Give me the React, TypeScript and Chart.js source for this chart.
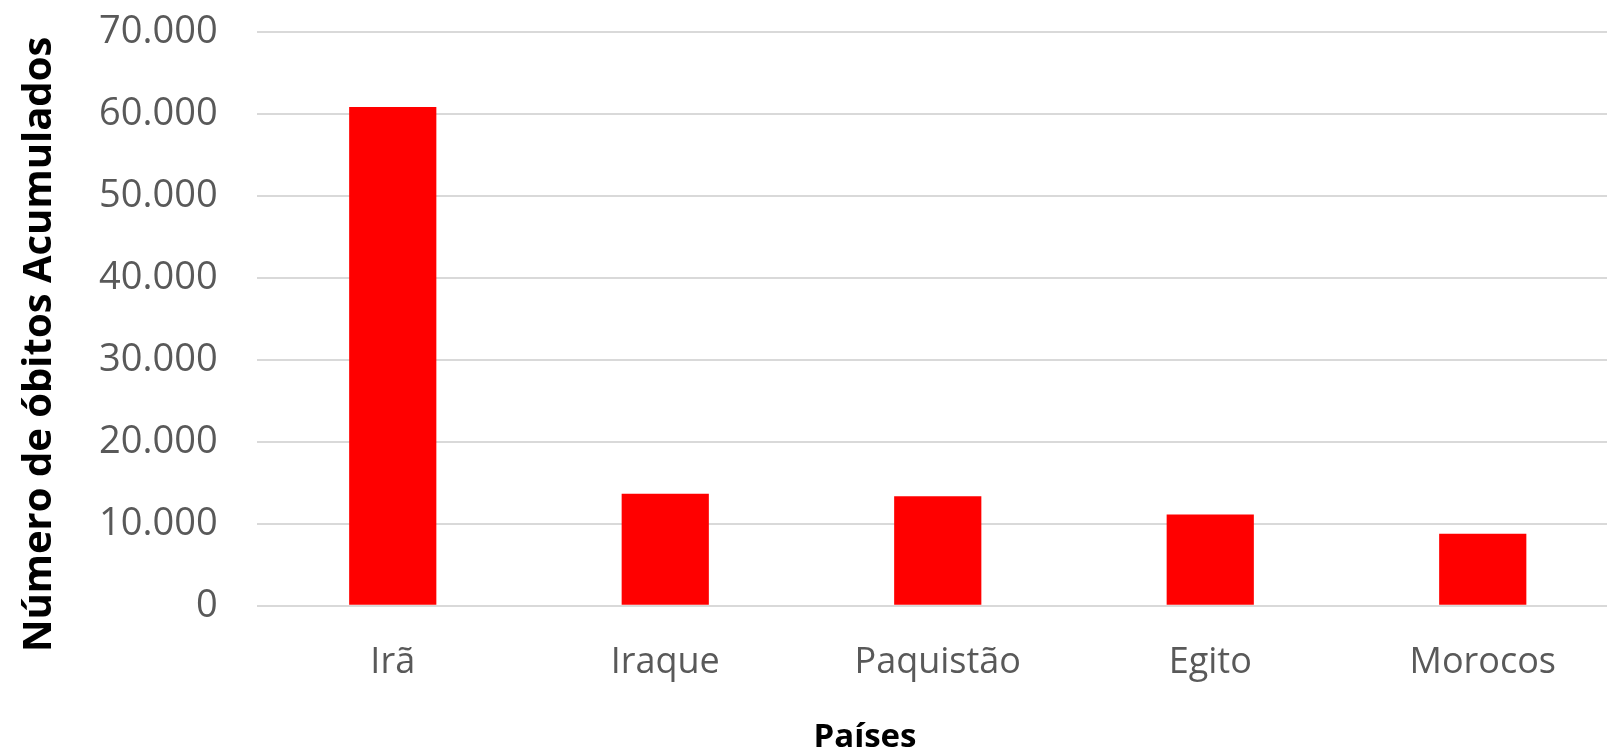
import React, { useEffect, useRef } from "react";
import { Chart, registerables } from "chart.js";

Chart.register(...registerables);

const categories = ["Irã", "Iraque", "Paquistão", "Egito", "Morocos"];
const deaths = [60900, 13680, 13350, 11150, 8800];
const yTicks = [0, 10000, 20000, 30000, 40000, 50000, 60000, 70000];
const yTitle = "Número de óbitos Acumulados";
const xTitle = "Países";

const fmt = (v: number) => String(v).replace(/\B(?=(\d{3})+(?!\d))/g, ".");

const titlesPlugin = {
  id: "customTitles",
  afterDraw(chart: any) {
    const { ctx, chartArea } = chart;
    ctx.save();
    ctx.fillStyle = "#000000";
    ctx.font = "bold 40px 'Open Sans'";
    ctx.textAlign = "center";
    ctx.textBaseline = "alphabetic";
    ctx.translate(51, chartArea.top + 312);
    ctx.rotate(-Math.PI / 2);
    ctx.fillText(yTitle, 0, 0);
    ctx.restore();
    ctx.save();
    ctx.fillStyle = "#000000";
    ctx.font = "bold 33px 'Open Sans'";
    ctx.textAlign = "center";
    ctx.textBaseline = "alphabetic";
    ctx.fillText(xTitle, chartArea.left + 608.5, chartArea.bottom + 141);
    ctx.restore();
  },
};

export default function App() {
  const ref = useRef<HTMLCanvasElement | null>(null);
  useEffect(() => {
    document.body.style.margin = "0";
    document.body.style.overflow = "hidden";
    const chart = new Chart(ref.current as HTMLCanvasElement, {
      type: "bar",
      data: {
        labels: categories,
        datasets: [
          {
            data: deaths,
            backgroundColor: "#ff0000",
            borderWidth: 0,
            barPercentage: 0.32,
            categoryPercentage: 1,
          },
        ],
      },
      options: {
        animation: false,
        responsive: false,
        layout: { padding: { top: 32.4, right: 6, left: 0, bottom: 0 } },
        plugins: {
          legend: { display: false },
          tooltip: { enabled: false },
          title: { display: false },
        },
        scales: {
          x: {
            grid: { display: false, drawTicks: false },
            border: { display: false },
            ticks: {
              color: "#595959",
              font: { family: "'Open Sans'", size: 36 },
              padding: 35,
              maxRotation: 0,
              autoSkip: false,
            },
            afterFit: (s: any) => {
              s.height = 143.3;
              s.paddingLeft = 0;
              s.paddingRight = 0;
            },
          },
          y: {
            min: 0,
            max: 70000,
            afterBuildTicks: (s: any) => {
              s.ticks = yTicks.map((v) => ({ value: v }));
            },
            grid: { color: "#d9d9d9", lineWidth: 2, drawTicks: false },
            border: { display: false },
            ticks: {
              color: "#595959",
              font: { family: "'Open Sans'", size: 38 },
              padding: 38.8,
              callback: (v: any) => fmt(Number(v)),
            },
            afterFit: (s: any) => {
              s.width = 256.5;
              s.paddingTop = 0;
              s.paddingBottom = 0;
            },
          },
        },
      },
      plugins: [titlesPlugin],
    });
    return () => chart.destroy();
  }, []);
  return (
    <div style={{ width: 1607, height: 749, overflow: "hidden", background: "#fff" }}>
      <canvas ref={ref} width={1625} height={749} style={{ width: 1625, height: 749, display: "block" }} />
    </div>
  );
}
